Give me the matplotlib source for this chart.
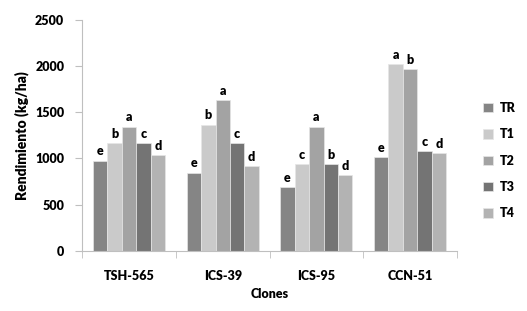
import numpy as np
import matplotlib.pyplot as plt

plt.rcParams['font.family'] = ['Lato', 'DejaVu Sans']
plt.rcParams['font.weight'] = 'heavy'

clones = ['TSH-565', 'ICS-39', 'ICS-95', 'CCN-51']
treatments = ['TR', 'T1', 'T2', 'T3', 'T4']

# rendimiento (kg/ha) por tratamiento, en el orden de clones
tr = [975, 845, 690, 1010]
t1 = [1165, 1365, 940, 2025]
t2 = [1345, 1635, 1345, 1970]
t3 = [1162, 1165, 940, 1080]
t4 = [1038, 915, 820, 1055]
values = [tr, t1, t2, t3, t4]

letters = [['e', 'e', 'e', 'e'],
           ['b', 'b', 'c', 'a'],
           ['a', 'a', 'a', 'b'],
           ['c', 'c', 'b', 'c'],
           ['d', 'd', 'd', 'd']]

colors = ['#858585', '#cacaca', '#a3a3a3', '#747474', '#b3b3b3']

fig = plt.figure(figsize=(5.27, 3.11), dpi=100)
ax = fig.add_axes([0.156, 0.194, 0.711, 0.742])

x = np.arange(len(clones))
w = 1 / 6.5
for i, (vals, c) in enumerate(zip(values, colors)):
    pos = x + (i - 2) * w
    ax.bar(pos, vals, width=w, color=c, edgecolor='#e6e6e6', linewidth=0.5,
           label=treatments[i])
    for p, v, l in zip(pos, vals, letters[i]):
        ax.text(p, v + 35, l, ha='center', va='bottom', fontsize=9, fontweight='heavy')

ax.set_xlim(-0.5, 3.5)
ax.set_ylim(0, 2500)
ax.set_yticks([0, 500, 1000, 1500, 2000, 2500])
ax.set_xticks(x)
ax.set_xticklabels(clones)
ax.set_xticks(np.arange(-0.5, 4, 1), minor=True)
ax.tick_params(axis='x', which='major', length=0, pad=14, labelsize=9)
ax.tick_params(axis='x', which='minor', length=5, color='#bfbfbf', direction='out')
ax.tick_params(axis='y', length=5, color='#bfbfbf', labelsize=9, pad=8)

for s in ['top', 'right']:
    ax.spines[s].set_visible(False)
for s in ['left', 'bottom']:
    ax.spines[s].set_color('#bfbfbf')

ax.set_ylabel('Rendimiento (kg/ha)', fontsize=10, fontweight='heavy', labelpad=4)
ax.set_xlabel('Clones', fontsize=9, fontweight='heavy', labelpad=4)

leg = ax.legend(loc='center left', bbox_to_anchor=(1.04, 0.39), frameon=False,
                handlelength=0.8, handleheight=0.8, labelspacing=1.15,
                handletextpad=0.5, fontsize=9)

fig.savefig('out.png', dpi=100)
